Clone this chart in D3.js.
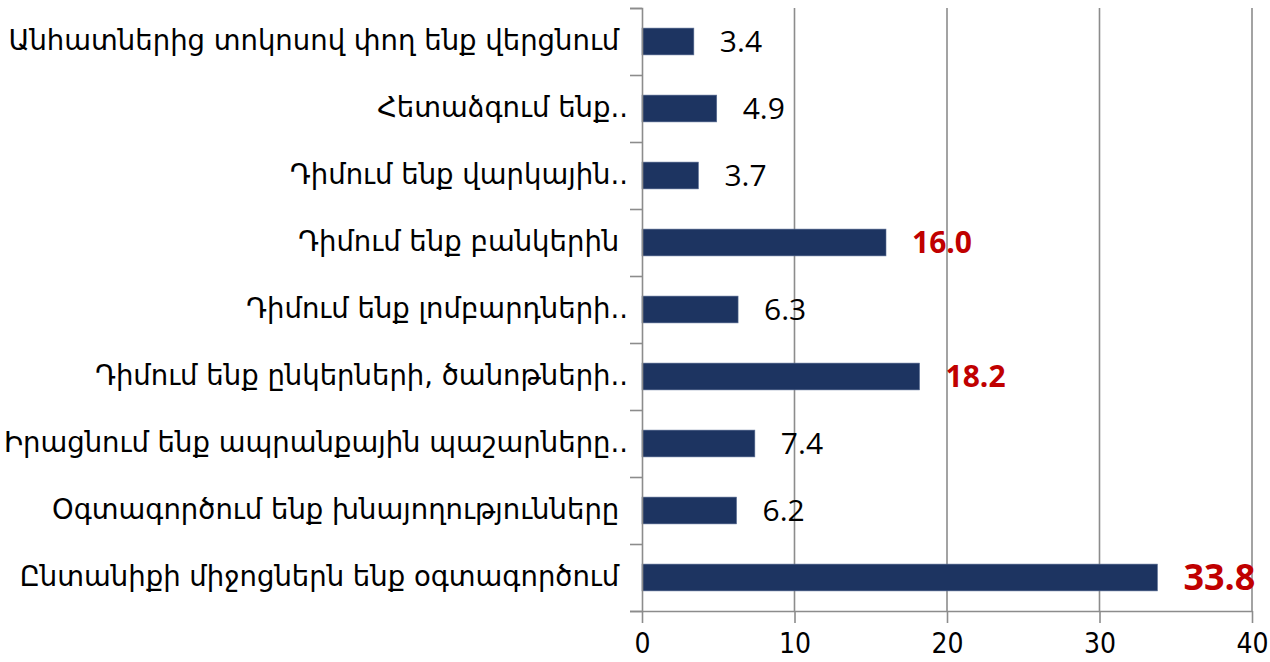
<!DOCTYPE html>
<html>
<head>
<meta charset="utf-8">
<script src="https://cdn.jsdelivr.net/npm/d3@7"></script>
<style>
  body { margin: 0; background: #fff; }
  svg { display: block; }
</style>
</head>
<body>
<svg id="chart" width="1270" height="662"></svg>
<script>
const categories = [
  'Անհատներից տոկոսով փող ենք վերցնում ',
  'Հետաձգում ենք..',
  'Դիմում ենք վարկային..',
  'Դիմում ենք բանկերին ',
  'Դիմում ենք լոմբարդների..',
  'Դիմում ենք ընկերների, ծանոթների..',
  'Իրացնում ենք ապրանքային պաշարները..',
  'Օգտագործում ենք խնայողությունները ',
  'Ընտանիքի միջոցներն ենք օգտագործում '
]
const values = [3.4, 4.9, 3.7, 16.0, 6.3, 18.2, 7.4, 6.2, 33.8]
const highlighted = [false, false, false, true, false, true, false, false, true]
const xTicks = [0, 10, 20, 30, 40]

const BarColor = '#1d3461'
const GridColor = '#8c8c8c'
const HighlightColor = '#c00000'

const plot = { left: 642, right: 1252, top: 8, bottom: 611 }

const svg = d3.select('#chart')

const x = d3.scaleLinear([0, 40], [plot.left, plot.right])
const y = d3.scaleBand(categories, [plot.top, plot.bottom])
  .paddingInner(0.6)
  .paddingOuter(0.3)
const yEdge = d3.scaleLinear([0, categories.length], [plot.top, plot.bottom])
const maxValue = d3.max(values)

// vertical grid lines
svg.append('g')
  .selectAll('line')
  .data(xTicks.slice(1))
  .join('line')
  .attr('x1', d => x(d))
  .attr('x2', d => x(d))
  .attr('y1', plot.top)
  .attr('y2', plot.bottom)
  .attr('stroke', GridColor)
  .attr('stroke-width', 1.6)

// bars
svg.append('g')
  .selectAll('rect')
  .data(values)
  .join('rect')
  .attr('x', x(0))
  .attr('y', (d, i) => y(categories[i]))
  .attr('width', d => x(d) - x(0))
  .attr('height', y.bandwidth())
  .attr('fill', BarColor)
  .attr('stroke', '#5b6f95')
  .attr('stroke-width', 0.6)

// left axis, ticks sit between the categories
const yAxis = svg.append('g')
  .attr('transform', `translate(${plot.left},0)`)
  .call(d3.axisLeft(yEdge).tickValues(d3.range(categories.length + 1)).tickSize(12).tickFormat(''))
yAxis.select('.domain').attr('stroke', GridColor).attr('stroke-width', 1.6)
yAxis.selectAll('.tick line').attr('stroke', GridColor).attr('stroke-width', 1.6)

// bottom axis
const xAxis = svg.append('g')
  .attr('transform', `translate(0,${plot.bottom})`)
  .call(d3.axisBottom(x).tickValues(xTicks).tickSize(12).tickSizeOuter(0).tickPadding(10))
xAxis.select('.domain').attr('stroke', GridColor).attr('stroke-width', 1.6)
xAxis.selectAll('.tick line').attr('stroke', GridColor).attr('stroke-width', 1.6)
xAxis.selectAll('.tick text')
  .attr('fill', '#000')
  .style('font-family', '"Liberation Sans Narrow", "DejaVu Sans Condensed", sans-serif')
  .style('font-size', '28px')

// category labels
svg.append('g')
  .selectAll('text')
  .data(categories)
  .join('text')
  .attr('x', 628)
  .attr('y', d => y(d) + y.bandwidth() / 2)
  .attr('dy', '0.3em')
  .attr('text-anchor', 'end')
  .style('white-space', 'pre')
  .style('font-family', '"DejaVu Sans", sans-serif')
  .style('font-size', '27.5px')
  .attr('fill', '#000')
  .text(d => d)

// value labels
svg.append('g')
  .selectAll('text')
  .data(values)
  .join('text')
  .attr('x', d => x(d) + 26)
  .attr('y', (d, i) => y(categories[i]) + y.bandwidth() / 2)
  .attr('dy', '0.36em')
  .style('font-family', '"Open Sans", sans-serif')
  .style('font-size', d => d === maxValue ? '36px' : '30px')
  .style('font-weight', (d, i) => highlighted[i] ? 700 : 400)
  .attr('fill', (d, i) => highlighted[i] ? HighlightColor : '#000')
  .text(d => d.toFixed(1))
</script>
</body>
</html>
